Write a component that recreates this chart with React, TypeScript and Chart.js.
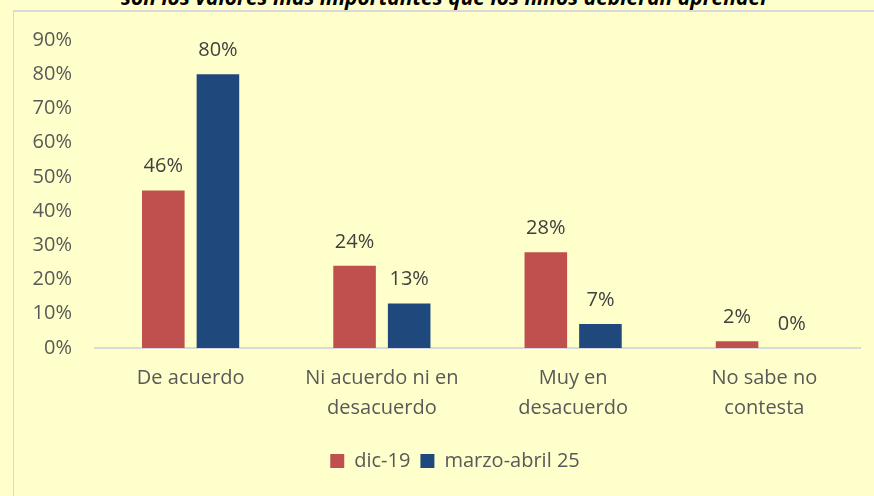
import React, { useEffect, useRef } from "react";
import { Chart, registerables } from "chart.js";

Chart.register(...registerables);

const categories: (string | string[])[] = [
  "De acuerdo",
  ["Ni acuerdo ni en", "desacuerdo"],
  ["Muy en", "desacuerdo"],
  ["No sabe no", "contesta"],
];
const seriesNames = ["dic-19", "marzo-abril 25"];
const dic19 = [46, 24, 28, 2];
const marzoAbril25 = [80, 13, 7, 0];
const seriesColors = ["#C0504D", "#1F497D"];
const yTicks = [0, 10, 20, 30, 40, 50, 60, 70, 80, 90];
const titleText = "son los valores más importantes que los niños debieran aprender";

const FONT = "'Open Sans'";
const BG = "#FFFFCC";

export default function App() {
  const ref = useRef<HTMLCanvasElement | null>(null);

  useEffect(() => {
    document.body.style.margin = "0";
    document.body.style.background = BG;
    const canvas = ref.current!;
    const dataLabels = {
      id: "dataLabels",
      afterDatasetsDraw(chart: any) {
        const ctx = chart.ctx;
        ctx.save();
        ctx.font = `20px ${FONT}`;
        ctx.fillStyle = "#404040";
        ctx.textAlign = "center";
        ctx.textBaseline = "middle";
        chart.data.datasets.forEach((ds: any, di: number) => {
          const meta = chart.getDatasetMeta(di);
          meta.data.forEach((el: any, i: number) => {
            ctx.fillText(`${ds.data[i]}%`, el.x, el.y - 24);
          });
        });
        ctx.restore();
      },
    };
    const shiftLegend = {
      id: "shiftLegend",
      afterLayout(chart: any) {
        const lg = chart.legend;
        if (lg) {
          lg.left += 50;
          lg.width = lg.right - lg.left;
        }
      },
    };
    const chart = new Chart(canvas, {
      type: "bar",
      data: {
        labels: categories,
        datasets: [
          { label: seriesNames[0], data: dic19, backgroundColor: seriesColors[0] },
          { label: seriesNames[1], data: marzoAbril25, backgroundColor: seriesColors[1] },
        ],
      },
      options: {
        responsive: false,
        animation: false,
        categoryPercentage: 0.571,
        barPercentage: 0.78,
        layout: { padding: { left: 0, right: 14, top: 40, bottom: 15 } },
        plugins: {
          tooltip: { enabled: false },
          legend: {
            position: "bottom",
            labels: {
              boxWidth: 14,
              boxHeight: 14,
              padding: 10,
              color: "#595959",
              font: { family: FONT, size: 20 },
            },
          },
        },
        scales: {
          x: {
            grid: { display: false, drawTicks: false },
            border: { display: true, color: "#D9D9D9", width: 2 },
            ticks: {
              color: "#595959",
              font: { family: FONT, size: 20, lineHeight: 1.47 },
              padding: 16,
              maxRotation: 0,
              autoSkip: false,
            },
            afterFit(scale: any) {
              scale.height = 93;
            },
          },
          y: {
            min: 0,
            max: 90,
            grid: { display: false, drawTicks: false },
            border: { display: false },
            afterBuildTicks(scale: any) {
              scale.ticks = yTicks.map((v) => ({ value: v }));
            },
            ticks: {
              color: "#595959",
              font: { family: FONT, size: 20 },
              padding: 23,
              callback: (v: any) => `${v}%`,
            },
            afterFit(scale: any) {
              scale.width = 95;
            },
          },
        },
      },
      plugins: [dataLabels, shiftLegend],
    } as any);
    return () => chart.destroy();
  }, []);

  return (
    <div style={{ position: "relative", width: 874, height: 496, overflow: "hidden", background: BG }}>
      <div
        style={{
          position: "absolute",
          left: 13,
          top: 10,
          width: 900,
          height: 520,
          borderLeft: "1px solid #D9D9D9",
          borderTop: "2px solid #D9D9D9",
        }}
      />
      <div
        style={{
          position: "absolute",
          left: 0,
          width: 890,
          top: -13,
          textAlign: "center",
          fontFamily: FONT,
          fontWeight: "bold",
          fontStyle: "italic",
          fontSize: 21,
          lineHeight: "20px",
          color: "#000",
          whiteSpace: "nowrap",
        }}
      >
        {titleText}
      </div>
      <canvas ref={ref} width={874} height={496} style={{ position: "absolute", left: 0, top: 0 }} />
    </div>
  );
}
